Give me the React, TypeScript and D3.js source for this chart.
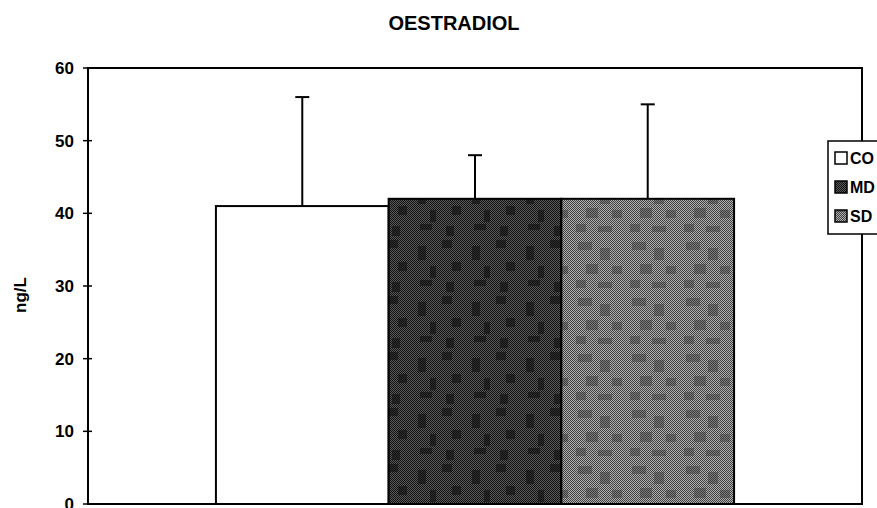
import React from "react";
import * as d3 from "d3";

const title = "OESTRADIOL";
const yLabel = "ng/L";
const series = ["CO", "MD", "SD"];
const means = [41, 42, 42];
const errors = [15, 6, 13];
const yTicks = [0, 10, 20, 30, 40, 50, 60];
const category = [""];

const W = 877;
const H = 508;
const margin = { left: 88, right: 15, top: 68, bottom: 4 };

export default function App() {
  const plotW = W - margin.left - margin.right;
  const plotH = H - margin.top - margin.bottom;
  const y = d3.scaleLinear().domain([0, 60]).range([plotH, 0]);
  const x0 = d3.scaleBand<string>().domain(category).range([0, plotW]).padding(0.198);
  const x1 = d3.scaleBand<string>().domain(series).range([0, x0.bandwidth()]).padding(0);
  const fills = ["#ffffff", "url(#patDark)", "url(#patGray)"];
  const font = "Arial, 'Liberation Sans', sans-serif";

  const darkBlotches = [
    [6, 10, 8, 14], [30, 4, 10, 8], [18, 30, 6, 12], [40, 26, 9, 9], [8, 44, 12, 6], [34, 46, 8, 10],
  ];
  const grayBlotches = [
    [4, 6, 14, 8], [26, 12, 10, 12], [12, 28, 12, 10], [38, 30, 10, 8], [2, 44, 10, 8], [24, 46, 14, 6],
  ];

  return (
    <svg width={W} height={H} style={{ position: "absolute", left: 0, top: 0, background: "#fff" }}>
      <defs>
        <pattern id="checkDark" width="2" height="2" patternUnits="userSpaceOnUse">
          <rect width="2" height="2" fill="#5a5a5a" />
          <rect width="1" height="1" fill="#111" />
          <rect x="1" y="1" width="1" height="1" fill="#111" />
        </pattern>
        <pattern id="checkGray" width="2" height="2" patternUnits="userSpaceOnUse">
          <rect width="2" height="2" fill="#b0b0b0" />
          <rect width="1" height="1" fill="#404040" />
          <rect x="1" y="1" width="1" height="1" fill="#404040" />
        </pattern>
        <pattern id="patDark" width="54" height="56" patternUnits="userSpaceOnUse">
          <rect width="54" height="56" fill="url(#checkDark)" />
          {darkBlotches.map((b, i) => (
            <rect key={i} x={b[0]} y={b[1]} width={b[2]} height={b[3]} fill="#151515" opacity={0.7} />
          ))}
        </pattern>
        <pattern id="patGray" width="54" height="56" patternUnits="userSpaceOnUse">
          <rect width="54" height="56" fill="url(#checkGray)" />
          {grayBlotches.map((b, i) => (
            <rect key={i} x={b[0]} y={b[1]} width={b[2]} height={b[3]} fill="#3a3a3a" opacity={0.45} />
          ))}
        </pattern>
      </defs>
      <text x={454} y={30} textAnchor="middle" fontFamily={font} fontWeight="bold" fontSize={20}>
        {title}
      </text>
      <text
        transform={`translate(26,295) rotate(-90)`}
        textAnchor="middle"
        fontFamily={font}
        fontWeight="bold"
        fontSize={17}
      >
        {yLabel}
      </text>
      <g transform={`translate(${margin.left},${margin.top})`}>
        {series.map((s, i) => {
          const bx = (x0("") ?? 0) + (x1(s) ?? 0);
          return (
            <rect
              key={s}
              x={bx}
              y={y(means[i])}
              width={x1.bandwidth()}
              height={plotH - y(means[i])}
              fill={fills[i]}
              stroke="#000"
              strokeWidth={2}
            />
          );
        })}
        {series.map((s, i) => {
          const cx = (x0("") ?? 0) + (x1(s) ?? 0) + x1.bandwidth() / 2;
          return (
            <g key={s} stroke="#000" strokeWidth={2}>
              <line x1={cx} x2={cx} y1={y(means[i])} y2={y(means[i] + errors[i])} />
              <line x1={cx - 7} x2={cx + 7} y1={y(means[i] + errors[i])} y2={y(means[i] + errors[i])} />
            </g>
          );
        })}
        <rect x={0} y={0} width={plotW} height={plotH} fill="none" stroke="#000" strokeWidth={2} />
        {yTicks.map((t) => (
          <g key={t} transform={`translate(0,${y(t)})`}>
            <line x1={-5} x2={4} stroke="#000" strokeWidth={1.5} />
            <text x={-14} dy="0.36em" textAnchor="end" fontFamily={font} fontWeight="bold" fontSize={17}>
              {t}
            </text>
          </g>
        ))}
      </g>
      <g transform="translate(828,141)">
        <rect x={0} y={0} width={70} height={93} fill="#fff" stroke="#000" strokeWidth={1.5} />
        {series.map((s, i) => (
          <g key={s} transform={`translate(7,${17 + i * 29})`}>
            <rect x={0} y={-6} width={12} height={12} fill={fills[i]} stroke="#000" strokeWidth={1.5} />
            <text x={15} dy="0.36em" fontFamily={font} fontWeight="bold" fontSize={16}>
              {s}
            </text>
          </g>
        ))}
      </g>
    </svg>
  );
}
